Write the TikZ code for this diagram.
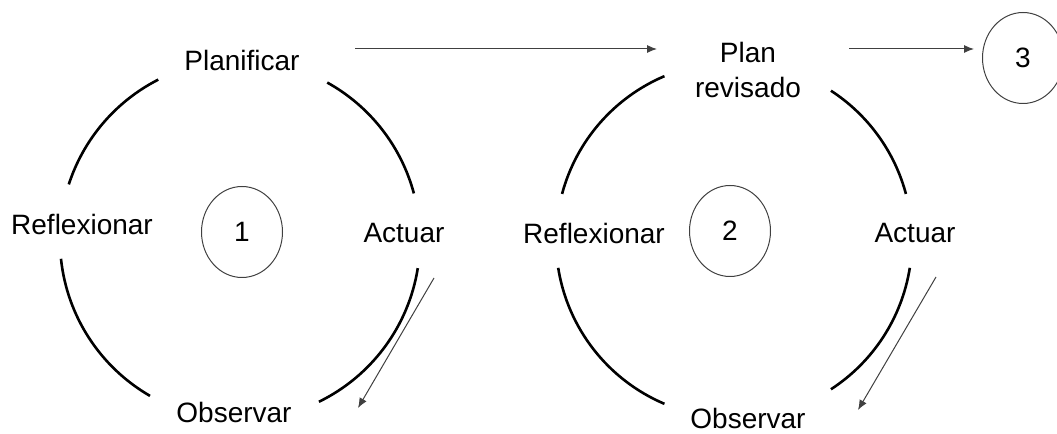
\documentclass[tikz,border=0pt]{standalone}
\usepackage{fontspec}
\setmainfont{Liberation Sans}
\usetikzlibrary{shapes.geometric,arrows.meta,calc}
\tikzset{arcline/.style={line width=1.3pt,black}}
\tikzset{lbl/.style={font=\fontsize{14}{17.5}\selectfont,inner sep=1pt}}
\tikzset{cyc/.style={ellipse,draw=black!75,line width=0.5pt,minimum width=40.5pt,minimum height=45.5pt,inner sep=0pt,font=\fontsize{14}{17}\selectfont}}
\tikzset{arrow/.style={line width=0.5pt,draw=black!75,-{Latex[length=5pt,width=4pt]}}}

\begin{document}
\begin{tikzpicture}[x=0.5pt,y=0.5pt]
        \useasboundingbox (0,0) rectangle (1057,434);
        % primer ciclo
        \coordinate (c1) at (240,194);
        \draw[arcline] ($(c1)+(117:180)$) arc[start angle=117,end angle=162,radius=180];
        \draw[arcline] ($(c1)+(61:180)$) arc[start angle=61,end angle=15,radius=180];
        \draw[arcline] ($(c1)+(186:180)$) arc[start angle=186,end angle=240,radius=180];
        \draw[arcline] ($(c1)+(-9:180)$) arc[start angle=-9,end angle=-64,radius=180];
        \node[lbl] (plan1) at (242,374) {Planificar};
        \node[lbl] (refl1) at (82,210) {Reflexionar};
        \node[lbl] (act1) at (404,201) {Actuar};
        \node[lbl] (obs1) at (234,22) {Observar};
        \node[cyc] (e1) at (242,202) {1};
        % segundo ciclo
        \coordinate (c2) at (734,194);
        \draw[arcline] ($(c2)+(113:178)$) arc[start angle=113,end angle=165,radius=178];
        \draw[arcline] ($(c2)+(57:178)$) arc[start angle=57,end angle=15,radius=178];
        \draw[arcline] ($(c2)+(189:178)$) arc[start angle=189,end angle=247,radius=178];
        \draw[arcline] ($(c2)+(-9:178)$) arc[start angle=-9,end angle=-57,radius=178];
        \node[lbl,align=center] (plan2) at (748,364) {Plan\\revisado};
        \node[lbl] (refl2) at (594,201) {Reflexionar};
        \node[lbl] (act2) at (915,201) {Actuar};
        \node[lbl] (obs2) at (748,16) {Observar};
        \node[cyc] (e2) at (730,203) {2};
        \node[cyc] (e3) at (1023,376) {3};
        % flechas
        \coordinate (t1) at (355,385);
        \coordinate (t2) at (657,385);
        \coordinate (t3) at (849,385);
        \coordinate (d1) at (434,156);
        \coordinate (d1e) at (358,26);
        \coordinate (d2) at (936,157);
        \coordinate (d2e) at (858,24);
        \draw[arrow] (t1) -- (t2);
        \draw[arrow,shorten >=4pt] (t3) -- (t3 -| e3.west);
        \draw[arrow] (d1) -- (d1e);
        \draw[arrow] (d2) -- (d2e);
    \end{tikzpicture}
\end{document}
